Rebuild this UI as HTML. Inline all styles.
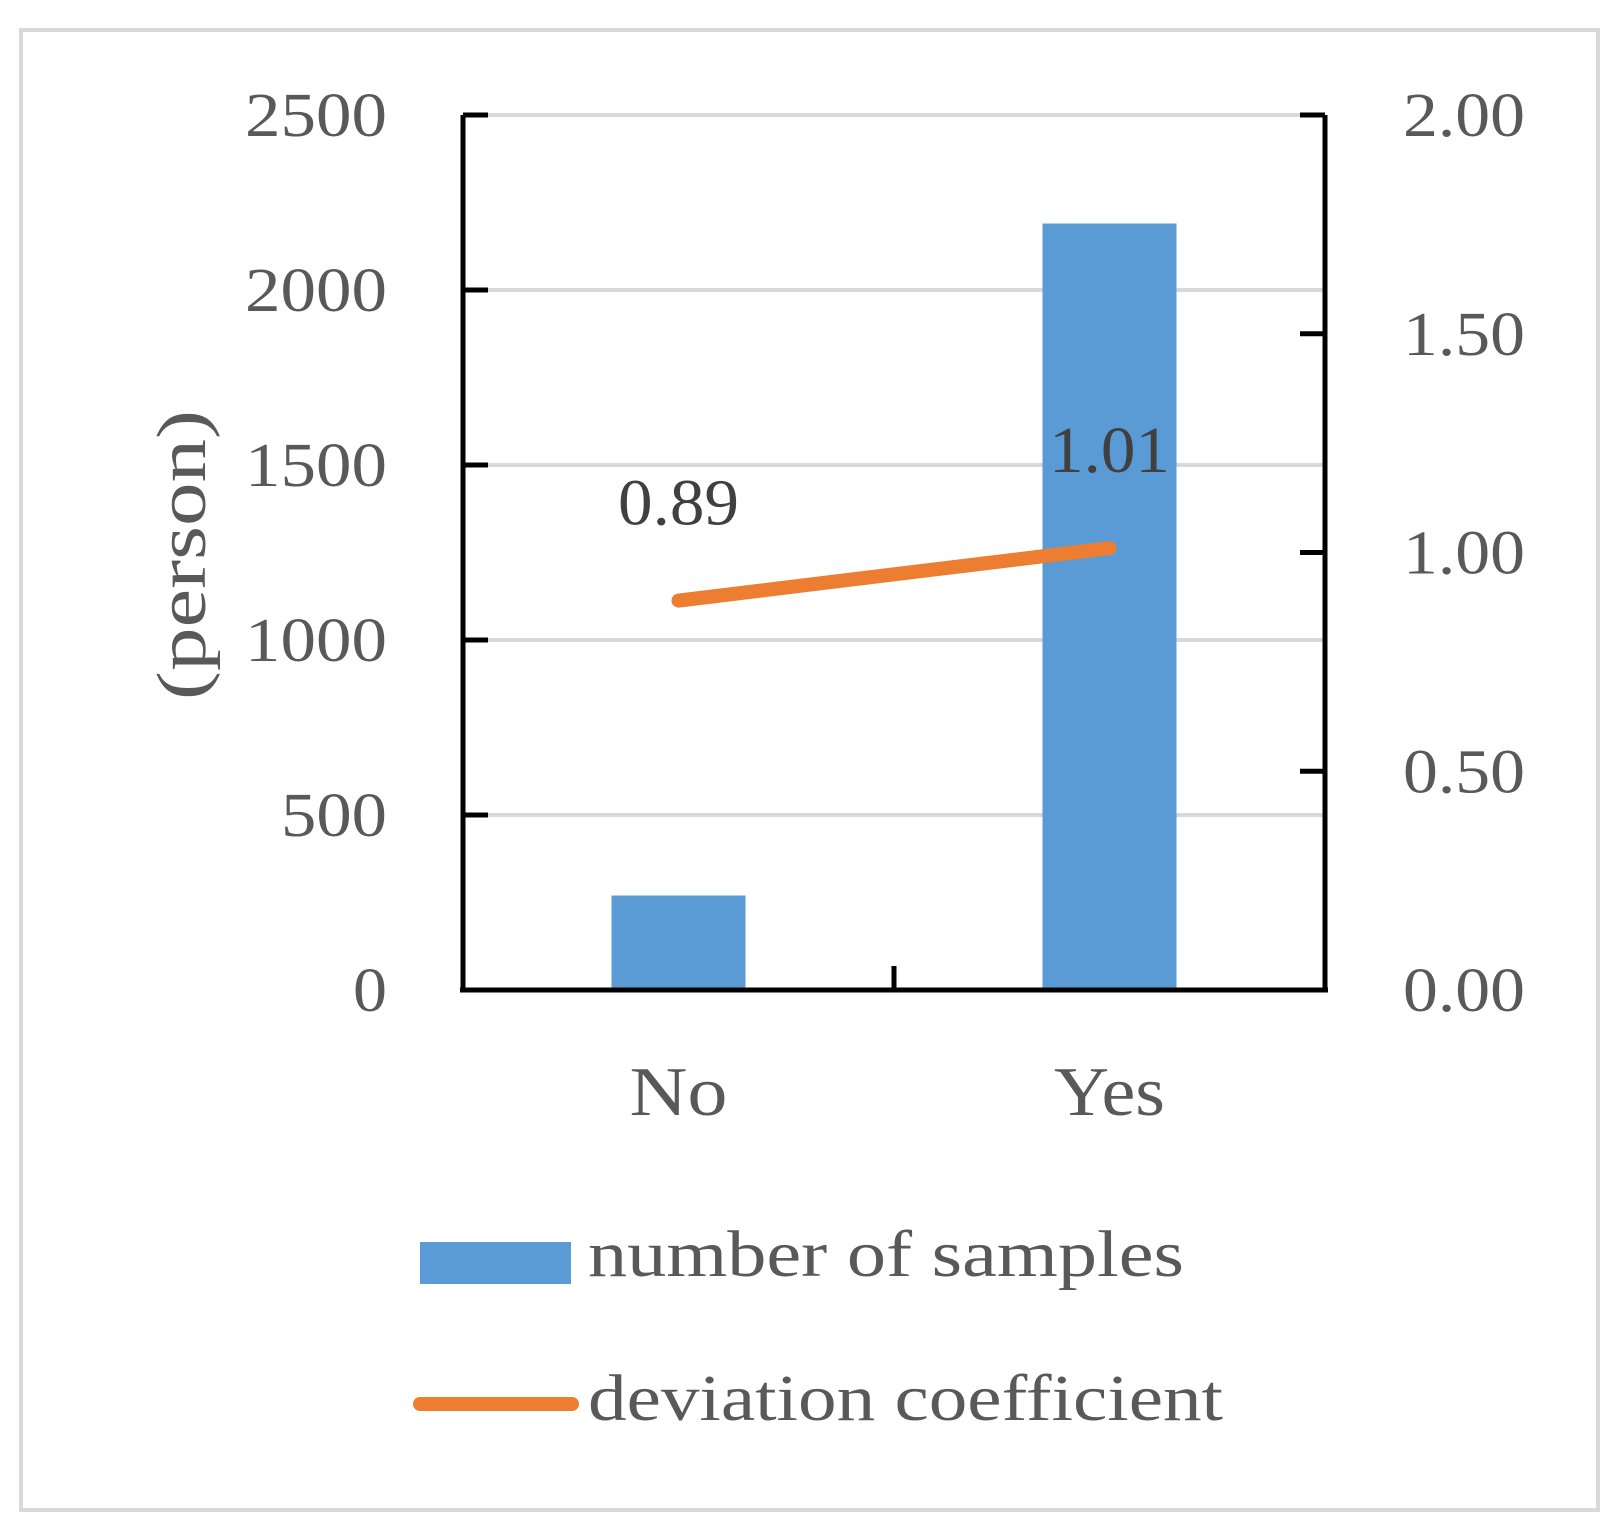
<!DOCTYPE html>
<html><head><meta charset="utf-8"><style>
html,body{margin:0;padding:0;background:#fff;}
svg{display:block;}
text{font-family:"Liberation Serif",serif;fill:#595959;}
</style></head><body>
<svg id="chart" width="1619" height="1529" viewBox="0 0 1619 1529">
<rect x="21" y="30" width="1577" height="1480" fill="#fff" stroke="#d9d9d9" stroke-width="4"/>
<g id="grid"></g><g id="bars"></g><g id="line"></g><g id="axes"></g><g id="labels"></g>
<text x="0" y="0" font-size="70" text-anchor="middle" textLength="290" lengthAdjust="spacingAndGlyphs" transform="translate(205,555) rotate(-90)">(person)</text>
<rect x="420" y="1242" width="151" height="42" fill="#5b9bd5"/>
<text x="588" y="1276" font-size="66" textLength="596" lengthAdjust="spacingAndGlyphs">number of samples</text>
<line x1="420" y1="1404" x2="572" y2="1404" stroke="#ed7d31" stroke-width="14" stroke-linecap="round"/>
<text x="588" y="1420" font-size="66" textLength="635" lengthAdjust="spacingAndGlyphs">deviation coefficient</text>
</svg>
<script>
const categories = ["No", "Yes"];
const samples = [270, 2190];
const deviation = [0.89, 1.01];
const leftTicks = [0, 500, 1000, 1500, 2000, 2500];
const rightTicks = ["0.00", "0.50", "1.00", "1.50", "2.00"];
const NS = "http://www.w3.org/2000/svg";
const L = 463, R = 1325, T = 115, B = 990;
const yL = v => B - (v / 2500) * (B - T);
const yR = v => B - (v / 2) * (B - T);
const band = (R - L) / categories.length;
const xC = i => L + band * (i + 0.5);
const numW = s => { let w = 0; for (const ch of s) w += ch === "." ? 16 : 36; return w; };
function mk(tag, attrs, parent, txt) {
  const e = document.createElementNS(NS, tag);
  for (const k in attrs) e.setAttribute(k, attrs[k]);
  if (txt !== undefined) e.textContent = txt;
  document.getElementById(parent).appendChild(e);
  return e;
}
leftTicks.forEach(v => {
  if (v > 0) {
    const g = mk("line", {x1: L, x2: R, y1: yL(v), y2: yL(v), stroke: "#d9d9d9", "stroke-width": 4}, "grid");
    
    
  }
  const s = String(v);
  const t = mk("text", {x: 387, y: yL(v) + 21, "font-size": 62, "text-anchor": "end", textLength: numW(s) - 2, lengthAdjust: "spacingAndGlyphs"}, "labels", s);
  
  
  const tk = mk("line", {x1: L, x2: L + 25, y1: yL(v), y2: yL(v), stroke: "#000", "stroke-width": 5}, "axes");
  
  
});
rightTicks.forEach(s => {
  const v = parseFloat(s);
  const t = mk("text", {x: 1403, y: yR(v) + 21, "font-size": 62, textLength: numW(s) - 2, lengthAdjust: "spacingAndGlyphs"}, "labels", s);
  
  
  const tk = mk("line", {x1: R - 25, x2: R, y1: yR(v), y2: yR(v), stroke: "#000", "stroke-width": 5}, "axes");
  
  
});
const catW = [98, 111];
const bw = 134;
categories.forEach((c, i) => {
  const b = mk("rect", {x: xC(i) - bw / 2, y: yL(samples[i]), width: bw, height: B - yL(samples[i]), fill: "#5b9bd5"}, "bars");
  
  
  const t = mk("text", {x: xC(i), y: 1115, "font-size": 70, "text-anchor": "middle", textLength: catW[i], lengthAdjust: "spacingAndGlyphs"}, "labels", c);
  
  
  const d = mk("text", {x: xC(i), y: yR(deviation[i]) - 76, "font-size": 66, "text-anchor": "middle", textLength: 121, lengthAdjust: "spacingAndGlyphs", style: "fill:#404040"}, "labels", deviation[i].toFixed(2));
  
  
});
const pl = mk("polyline", {points: deviation.map((v, i) => xC(i) + "," + yR(v)).join(" "), fill: "none", stroke: "#ed7d31", "stroke-width": 14, "stroke-linecap": "round"}, "line");


const ax = [[L, T, L, B], [R, T, R, B], [L - 3, B, R + 3, B], [(L + R) / 2, B, (L + R) / 2, B - 24]];
ax.forEach((a, i) => {
  const e = mk("line", {x1: a[0], y1: a[1], x2: a[2], y2: a[3], stroke: "#000", "stroke-width": 5}, "axes");
  
  
});
</script>
</body></html>
